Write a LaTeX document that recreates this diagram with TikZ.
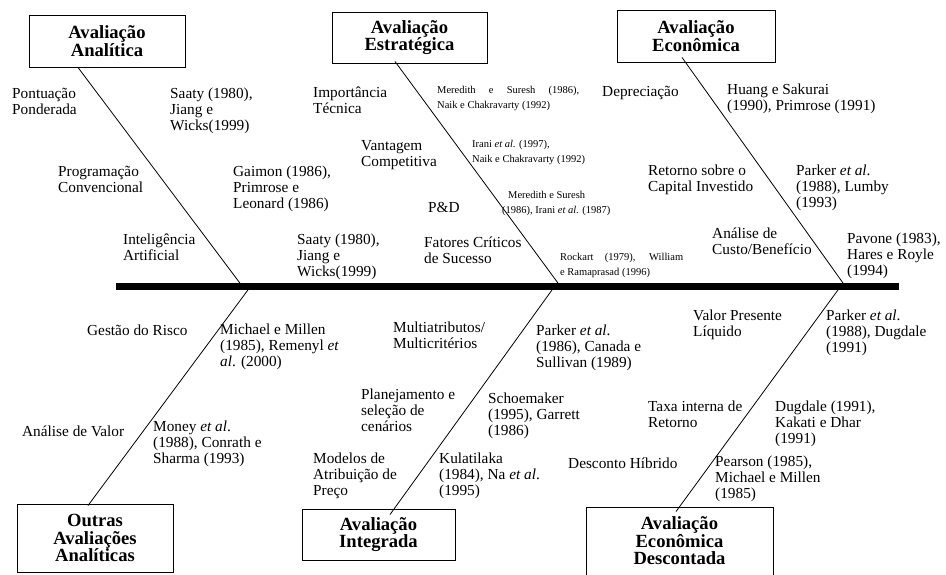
\documentclass[tikz,border=0pt]{standalone}
\usepackage{fontspec}
\setmainfont{Liberation Serif}
\newcommand{\spreadto}[2]{\makebox[#1][s]{#2}}
\tikzset{
  lbl/.style={anchor=north west, inner sep=0pt, align=left,
    font=\fontsize{15.3}{16}\selectfont, execute at begin node=\strut},
  sml/.style={lbl, font=\fontsize{10.5}{15}\selectfont},
  cat/.style={draw, line width=0.9pt, inner sep=0pt, align=center,
    font=\bfseries\fontsize{18.6}{17.5}\selectfont},
  bone/.style={line width=0.8pt},
  spine/.style={line width=7pt},
}
\begin{document}
\begin{tikzpicture}[x=1pt,y=-1pt]
\clip (0,0) rectangle (946,574);
\fill[white] (0,0) rectangle (946,574);

% category boxes
\node[cat, minimum width=156pt, minimum height=52pt] (bA) at (107,41) {Avaliação\\Analítica};
\node[cat, minimum width=155pt, minimum height=51pt] (bE) at (409.5,37.5) {Avaliação\\Estratégica};
\node[cat, minimum width=158pt, minimum height=52pt] (bC) at (696,36) {Avaliação\\Econômica};
\node[cat, minimum width=156pt, minimum height=68pt] (bO) at (95,538) {Outras\\Avaliações\\Analíticas};
\node[cat, minimum width=153pt, minimum height=51pt] (bI) at (378.5,534.5) {Avaliação\\Integrada};
\node[cat, minimum width=187pt, minimum height=68pt] (bD) at (679.5,541) {Avaliação\\Econômica\\Descontada};

% joints on the spine
\coordinate (spL) at (116,286.5);
\coordinate (spR) at (899,286.5);
\coordinate (jA) at (242.5,286.5);
\coordinate (jE) at (560.5,286.5);
\coordinate (jC) at (845.5,286.5);
\coordinate (jO) at (250.5,286.5);
\coordinate (jI) at (554.5,286.5);
\coordinate (jD) at (840.5,286.5);

% bones
\draw[bone] ([xshift=-29pt]bA.south) -- (jA);
\draw[bone] ([xshift=-14.5pt,yshift=2pt]bE.south) -- (jE);
\draw[bone] ([xshift=-14pt,yshift=5pt]bC.south) -- (jC);
\draw[bone] ([xshift=-7pt,yshift=-2pt]bO.north) -- (jO);
\draw[bone] ([xshift=11.5pt,yshift=-6pt]bI.north) -- (jI);
\draw[bone] ([xshift=-3.5pt,yshift=-5pt]bD.north) -- (jD);
\draw[spine] (spL) -- (spR);

% Avaliação Analítica
\node[lbl] (t1) at (12,88) {Pontuação\\Ponderada};
\node[lbl] (t2) at (170,88) {Saaty (1980),\\Jiang e\\Wicks(1999)};
\node[lbl] (t3) at (58,166) {Programação\\Convencional};
\node[lbl] (t4) at (233,166) {Gaimon (1986),\\Primrose e\\Leonard (1986)};
\node[lbl] (t5) at (123,234) {Inteligência\\Artificial};
\node[lbl] (t6) at (297,234) {Saaty (1980),\\Jiang e\\Wicks(1999)};

% Avaliação Estratégica
\node[lbl] (t7) at (313,87) {Importância\\Técnica};
\node[sml] (t8) at (437,86) {\spreadto{142pt}{Meredith e Suresh (1986),}\\Naik e Chakravarty (1992)};
\node[lbl] (t9) at (361,140) {Vantagem\\Competitiva};
\node[sml] (t10) at (472,140) {Irani \textit{et al.} (1997),\\Naik e Chakravarty (1992)};
\node[lbl] (t11) at (428,201) {P\&D};
\node[sml] (t12) at (502,191) {\hspace*{6pt}Meredith e Suresh\\(1986), Irani \textit{et al.} (1987)};
\node[lbl] (t13) at (424,237) {Fatores Críticos\\de Sucesso};
\node[sml] (t14) at (560,253) {\spreadto{123pt}{Rockart (1979), William}\\e Ramaprasad (1996)};

% Avaliação Econômica
\node[lbl] (t15) at (602,85) {Depreciação};
\node[lbl] (t16) at (727,84) {Huang e Sakurai\\(1990), Primrose (1991)};
\node[lbl] (t17) at (648,165) {Retorno sobre o\\Capital Investido};
\node[lbl] (t18) at (796,165) {Parker \textit{et al}.\\(1988), Lumby\\(1993)};
\node[lbl] (t19) at (712,228) {Análise de\\Custo/Benefício};
\node[lbl] (t20) at (847,233) {Pavone (1983),\\Hares e Royle\\(1994)};

% Outras Avaliações Analíticas
\node[lbl] (t21) at (87,324) {Gestão do Risco};
\node[lbl] (t22) at (220,324) {Michael e Millen\\(1985), Remenyl \textit{et}\\\textit{al}. (2000)};
\node[lbl] (t23) at (22,425) {Análise de Valor};
\node[lbl] (t24) at (153,421) {Money \textit{et al}.\\(1988), Conrath e\\Sharma (1993)};

% Avaliação Integrada
\node[lbl] (t25) at (393,322) {Multiatributos/\\Multicritérios};
\node[lbl] (t26) at (536,325) {Parker \textit{et al}.\\(1986), Canada e\\Sullivan (1989)};
\node[lbl] (t27) at (361,389) {Planejamento e\\seleção de\\cenários};
\node[lbl] (t28) at (488,393) {Schoemaker\\(1995), Garrett\\(1986)};
\node[lbl] (t29) at (313,453) {Modelos de\\Atribuição de\\Preço};
\node[lbl] (t30) at (439,453) {Kulatilaka\\(1984), Na \textit{et al}.\\(1995)};

% Avaliação Econômica Descontada
\node[lbl] (t31) at (693,310) {Valor Presente\\Líquido};
\node[lbl] (t32) at (826,310) {Parker \textit{et al}.\\(1988), Dugdale\\(1991)};
\node[lbl] (t33) at (648,401) {Taxa interna de\\Retorno};
\node[lbl] (t34) at (775,401) {Dugdale (1991),\\Kakati e Dhar\\(1991)};
\node[lbl] (t35) at (568,457) {Desconto Híbrido};
\node[lbl] (t36) at (715,456) {Pearson (1985),\\Michael e Millen\\(1985)};
\end{tikzpicture}
\end{document}
